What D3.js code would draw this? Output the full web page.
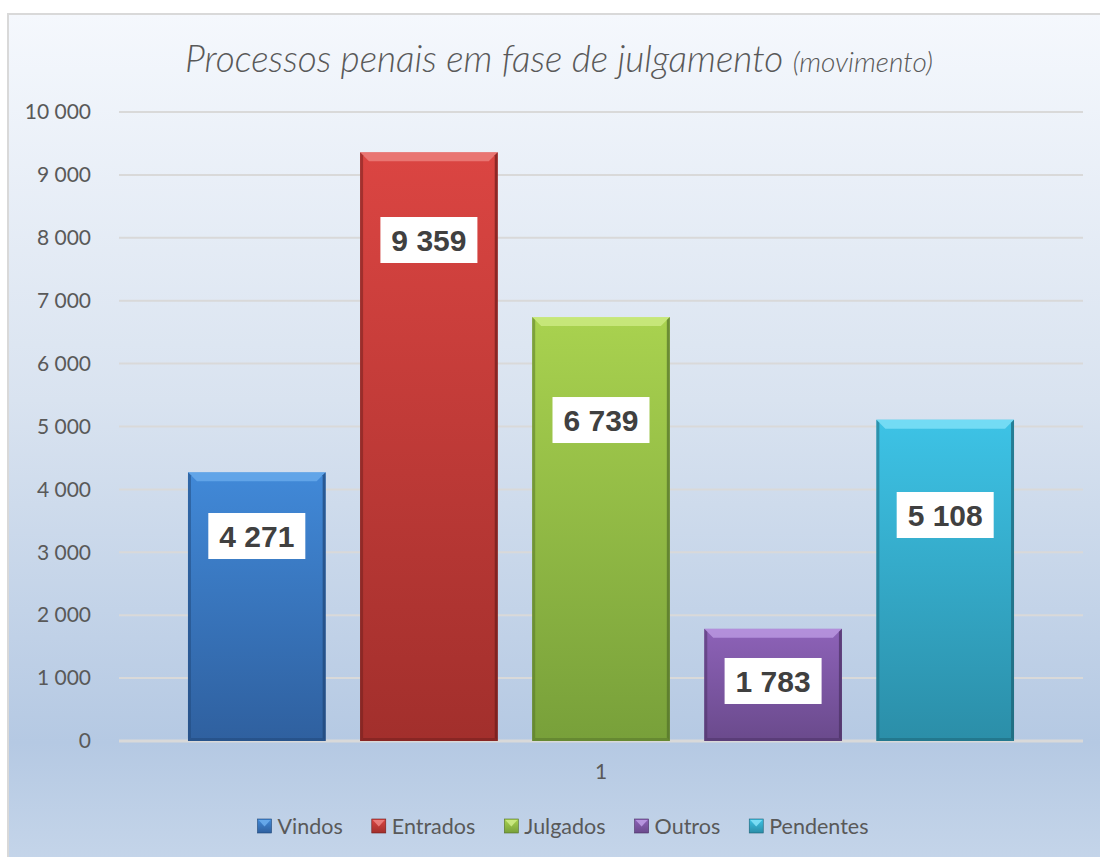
<!DOCTYPE html>
<html>
<head>
<meta charset="utf-8">
<script src="https://cdn.jsdelivr.net/npm/d3@7"></script>
<style>
	html, body { margin: 0; padding: 0; background: #ffffff; }
	svg { display: block; }
</style>
</head>
<body>
<div id="chart"></div>
<script>
// chart data
const categories = ['1'];
const series = ['Vindos', 'Entrados', 'Julgados', 'Outros', 'Pendentes'];
const values = [4271, 9359, 6739, 1783, 5108];
// value at which each data label box is centred (labels were placed by hand)
const labelAt = [3259, 7965, 5103, 954, 3593];
const yTicks = [0, 1000, 2000, 3000, 4000, 5000, 6000, 7000, 8000, 9000, 10000];
const colors = [
	{ top: '#4189d8', bottom: '#2f609f', light: '#6fb0f0', dark: '#1f4677' },
	{ top: '#db4542', bottom: '#a22f2c', light: '#f08a88', dark: '#6e1d1b' },
	{ top: '#a9d24f', bottom: '#78a03a', light: '#d3ef8c', dark: '#53712a' },
	{ top: '#8d62b8', bottom: '#6a4a8c', light: '#c3a2ea', dark: '#4a3063' },
	{ top: '#3dc3e6', bottom: '#2b8ea8', light: '#8ae6fb', dark: '#1c6174' }
];

const width = 1100;
const height = 857;
const plot = { left: 119, right: 1083, top: 112, bottom: 741 };
const font = 'Lato, sans-serif';

const fmt = (v) => d3.format(',')(v).replace(/,/g, ' ');

const svg = d3
	.select('#chart')
	.append('svg')
	.attr('width', width)
	.attr('height', height);

const defs = svg.append('defs');

const bg = defs
	.append('linearGradient')
	.attr('id', 'bg')
	.attr('x1', 0).attr('y1', 0).attr('x2', 0).attr('y2', 1);
bg.append('stop').attr('offset', '0%').attr('stop-color', '#f5f8fd');
bg.append('stop').attr('offset', '45%').attr('stop-color', '#d9e3f0');
bg.append('stop').attr('offset', '85%').attr('stop-color', '#b5c9e3');
bg.append('stop').attr('offset', '100%').attr('stop-color', '#c6d6ea');

colors.forEach((c, i) => {
	const g = defs
		.append('linearGradient')
		.attr('id', `bar-${i}`)
		.attr('x1', 0).attr('y1', 0).attr('x2', 0).attr('y2', 1);
	g.append('stop').attr('offset', '0%').attr('stop-color', c.top);
	g.append('stop').attr('offset', '100%').attr('stop-color', c.bottom);
});

// chart area with frame
svg
	.append('rect')
	.attr('x', 8)
	.attr('y', 14)
	.attr('width', width)
	.attr('height', height)
	.attr('fill', 'url(#bg)')
	.attr('stroke', '#d9d9d9')
	.attr('stroke-width', 2);

// title
const title = svg
	.append('text')
	.attr('x', 559)
	.attr('y', 72)
	.attr('text-anchor', 'middle')
	.attr('fill', '#595959')
	.attr('font-family', font)
	.attr('font-style', 'italic')
	.attr('font-weight', 300);
title.append('tspan').attr('font-size', 37).text('Processos penais em fase de julgamento ');
title.append('tspan').attr('font-size', 28).text('(movimento)');

const yScale = d3
	.scaleLinear()
	.domain([0, 10000])
	.range([plot.bottom, plot.top]);

const x0 = d3
	.scaleBand()
	.domain(categories)
	.range([plot.left, plot.right])
	.paddingOuter(0.0835);

const x1 = d3
	.scaleBand()
	.domain(series)
	.range([0, x0.bandwidth()])
	.paddingInner(0.2);

// gridlines
svg
	.append('g')
	.selectAll('line')
	.data(yTicks)
	.enter()
	.append('line')
	.attr('x1', plot.left)
	.attr('x2', plot.right)
	.attr('y1', (d) => yScale(d))
	.attr('y2', (d) => yScale(d))
	.attr('stroke', '#d9d9d9')
	.attr('stroke-width', (d) => (d === 0 ? 3 : 2));

// y axis labels
const yAxis = d3
	.axisLeft(yScale)
	.tickValues(yTicks)
	.tickFormat(fmt)
	.tickSize(0)
	.tickPadding(0);

svg
	.append('g')
	.attr('transform', 'translate(91,0)')
	.call(yAxis)
	.call((g) => g.select('.domain').remove())
	.call((g) =>
		g
			.selectAll('text')
			.attr('fill', '#595959')
			.attr('font-family', font)
			.attr('font-size', 21)
	);

// x axis label
const xAxis = d3.axisBottom(x0).tickSize(0).tickPadding(0);
svg
	.append('g')
	.attr('transform', `translate(0,${plot.bottom + 23})`)
	.call(xAxis)
	.call((g) => g.select('.domain').remove())
	.call((g) =>
		g
			.selectAll('text')
			.attr('fill', '#595959')
			.attr('font-family', font)
			.attr('font-size', 21)
	);

// bars
const bars = svg
	.append('g')
	.selectAll('g.bar')
	.data(series.map((s, i) => ({ name: s, value: values[i], label: labelAt[i], i })))
	.enter()
	.append('g')
	.attr('class', 'bar');

const bx = (d) => x0(categories[0]) + x1(d.name);
const bw = x1.bandwidth();
const bev = 9;

bars
	.append('rect')
	.attr('x', bx)
	.attr('y', (d) => yScale(d.value))
	.attr('width', bw)
	.attr('height', (d) => yScale(0) - yScale(d.value))
	.attr('fill', (d) => `url(#bar-${d.i})`);

// top bevel highlight
bars
	.append('path')
	.attr('d', (d) => {
		const x = bx(d);
		const y = yScale(d.value);
		return `M${x},${y}L${x + bw},${y}L${x + bw - bev},${y + bev}L${x + bev},${y + bev}Z`;
	})
	.attr('fill', (d) => colors[d.i].light)
	.attr('opacity', 0.7);

// side and bottom shading
bars
	.append('path')
	.attr('d', (d) => {
		const x = bx(d);
		const y = yScale(d.value);
		const b = yScale(0);
		return `M${x},${y}L${x + 3},${y + 3}L${x + 3},${b - 3}L${x},${b}Z`;
	})
	.attr('fill', (d) => colors[d.i].dark)
	.attr('opacity', 0.5);

bars
	.append('path')
	.attr('d', (d) => {
		const x = bx(d);
		const y = yScale(d.value);
		const b = yScale(0);
		return `M${x + bw},${y}L${x + bw - 3},${y + 3}L${x + bw - 3},${b - 3}L${x + bw},${b}Z`;
	})
	.attr('fill', (d) => colors[d.i].dark)
	.attr('opacity', 0.7);

bars
	.append('path')
	.attr('d', (d) => {
		const x = bx(d);
		const b = yScale(0);
		return `M${x},${b}L${x + 3},${b - 3}L${x + bw - 3},${b - 3}L${x + bw},${b}Z`;
	})
	.attr('fill', (d) => colors[d.i].dark)
	.attr('opacity', 0.5);

// data labels
bars
	.append('rect')
	.attr('x', (d) => bx(d) + bw / 2 - 48.5)
	.attr('y', (d) => yScale(d.label) - 23)
	.attr('width', 97)
	.attr('height', 46)
	.attr('fill', '#ffffff');

bars
	.append('text')
	.attr('x', (d) => bx(d) + bw / 2)
	.attr('y', (d) => yScale(d.label))
	.attr('dy', '0.36em')
	.attr('text-anchor', 'middle')
	.attr('fill', '#404040')
	.attr('font-family', '"Liberation Sans", Arial, sans-serif')
	.attr('font-weight', 'bold')
	.attr('font-size', 30)
	.text((d) => fmt(d.value));

// legend
const legend = svg.append('g').attr('transform', 'translate(0,826)');
const items = legend
	.selectAll('g')
	.data(series)
	.enter()
	.append('g');

items
	.append('rect')
	.attr('x', 0)
	.attr('y', -7)
	.attr('width', 14)
	.attr('height', 14)
	.attr('fill', (d, i) => `url(#bar-${i})`)
	.attr('stroke', (d, i) => colors[i].dark)
	.attr('stroke-width', 0.6);

items
	.append('path')
	.attr('d', 'M1,-6L13,-6L7,0.5Z')
	.attr('fill', (d, i) => colors[i].light)
	.attr('opacity', 0.8);

items
	.append('text')
	.attr('x', 20)
	.attr('dy', '0.35em')
	.attr('fill', '#595959')
	.attr('font-family', font)
	.attr('font-size', 21.5)
	.text((d) => d);

const gap = 29;
const widths = [];
items.each(function () {
	widths.push(this.getBBox().width);
});
const total = d3.sum(widths) + gap * (widths.length - 1);
let cx = 563 - total / 2;
items.attr('transform', (d, i) => {
	const t = `translate(${cx},0)`;
	cx += widths[i] + gap;
	return t;
});
</script>
</body>
</html>
